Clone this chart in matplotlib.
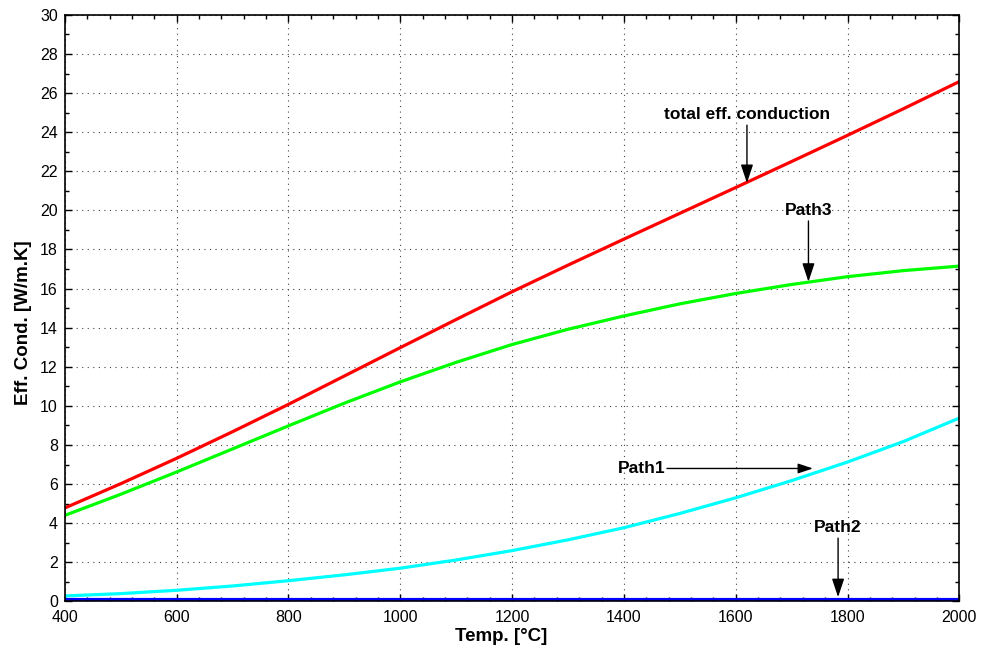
import numpy as np
import matplotlib.pyplot as plt
from matplotlib.ticker import MultipleLocator

plt.rcParams['font.family'] = ['Liberation Sans', 'DejaVu Sans']

# temperature in degC and effective conductivities in W/m.K
temp = [400, 500, 600, 700, 800, 900, 1000, 1100, 1200, 1300, 1400,
        1500, 1600, 1700, 1800, 1900, 2000]
k_total = [4.78, 6.02, 7.32, 8.68, 10.08, 11.53, 12.98, 14.42, 15.84, 17.2,
           18.53, 19.85, 21.17, 22.5, 23.84, 25.2, 26.59]
k_path3 = [4.40, 5.48, 6.62, 7.80, 8.98, 10.14, 11.23, 12.23, 13.14, 13.92,
           14.60, 15.22, 15.75, 16.21, 16.61, 16.92, 17.15]
k_path1 = [0.28, 0.40, 0.57, 0.79, 1.06, 1.36, 1.70, 2.12, 2.60, 3.15, 3.77,
           4.50, 5.30, 6.18, 7.13, 8.18, 9.38]
k_path2 = [0.05] * len(temp)

fig = plt.figure(figsize=(9.82, 6.46), dpi=100)
ax = fig.add_axes([0.066, 0.069, 0.911, 0.908])

ax.plot(temp, k_total, color='#ff0000', lw=2.3)
ax.plot(temp, k_path3, color='#00ff00', lw=2.3)
ax.plot(temp, k_path1, color='#00ffff', lw=2.3)
ax.plot(temp, k_path2, color='#0000ff', lw=3.0)

ax.set_xlim(400, 2000)
ax.set_ylim(0, 30)
ax.xaxis.set_major_locator(MultipleLocator(200))
ax.xaxis.set_minor_locator(MultipleLocator(40))
ax.yaxis.set_major_locator(MultipleLocator(2))
ax.yaxis.set_minor_locator(MultipleLocator(1))
ax.tick_params(which='both', direction='in', top=True, right=True,
               labelsize=11.5, width=1)
ax.tick_params(which='major', length=5)
ax.tick_params(which='minor', length=3)
ax.tick_params(axis='x', which='major', pad=6)
ax.tick_params(axis='y', which='major', pad=5)
ax.grid(True, which='major', linestyle=(0, (1, 4)), color='#444444', lw=0.8)
for s in ax.spines.values():
    s.set_linewidth(1.2)

ax.set_xlabel('Temp. [°C]', fontsize=13.5, fontweight='bold')
ax.set_ylabel('Eff. Cond. [W/m.K]', fontsize=13.5, fontweight='bold')
ax.xaxis.set_label_coords(0.488, -0.046)
ax.yaxis.set_label_coords(-0.037, 0.476)

arrow = dict(arrowstyle='-|>,head_length=0.9,head_width=0.3', color='black',
             lw=1, shrinkA=0, shrinkB=0)
font = dict(fontsize=12.5, fontweight='bold')
ax.annotate('total eff. conduction', xy=(1620, 21.4), xytext=(1620, 24.5),
            ha='center', va='bottom', arrowprops=arrow, **font)
ax.annotate('Path3', xy=(1730, 16.35), xytext=(1730, 19.6),
            ha='center', va='bottom', arrowprops=arrow, **font)
ax.text(1475, 6.8, 'Path1', ha='right', va='center', **font)
ax.annotate('', xy=(1738, 6.8), xytext=(1477, 6.8), arrowprops=arrow)
ax.annotate('Path2', xy=(1783, 0.22), xytext=(1783, 3.38),
            ha='center', va='bottom', arrowprops=arrow, **font)

fig.savefig('out.png', dpi=100)
